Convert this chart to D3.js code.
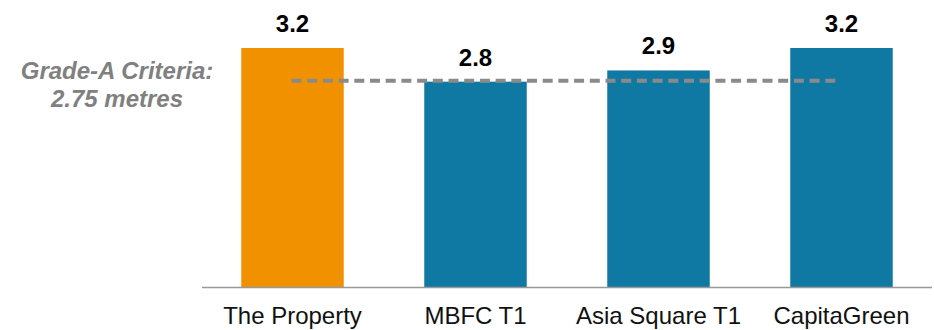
<!DOCTYPE html>
<html>
<head>
<meta charset="utf-8">
<script src="https://cdn.jsdelivr.net/npm/d3@7"></script>
<style>
  body { margin: 0; background: #fff; }
  text { font-family: "Liberation Sans", Arial, sans-serif; }
</style>
</head>
<body>
<div id="chart"></div>
<script>
// data
const categories = ["The Property", "MBFC T1", "Asia Square T1", "CapitaGreen"];
const heights = [3.2, 2.75, 2.9, 3.2];
const criteria = 2.75;
const criteriaLabel = ["Grade-A Criteria:", "2.75 metres"];

const width = 934, height = 330;
const baseline = 287.5;

const svg = d3.select("#chart")
  .append("svg")
    .attr("width", width)
    .attr("height", height);

const x = d3.scaleBand()
  .domain(categories)
  .range([201, 933])
  .paddingInner(0.44)
  .paddingOuter(0.22);

const y = d3.scaleLinear()
  .domain([0, 3.2])
  .range([baseline, 48]);

// bars
svg.selectAll("rect.bar")
  .data(heights)
  .join("rect")
    .attr("class", "bar")
    .attr("x", (d, i) => x(categories[i]))
    .attr("y", d => y(d))
    .attr("width", x.bandwidth())
    .attr("height", d => y(0) - y(d))
    .attr("fill", (d, i) => i === 0 ? "#F29100" : "#1079A3");

// value labels
svg.selectAll("text.val")
  .data(heights)
  .join("text")
    .attr("class", "val")
    .attr("x", (d, i) => x(categories[i]) + x.bandwidth() / 2)
    .attr("y", d => y(d) - 16)
    .attr("text-anchor", "middle")
    .style("font-size", "24px")
    .style("font-weight", "bold")
    .attr("fill", "#000")
    .text(d => d3.format(".1f")(d));

// x axis
const xAxis = svg.append("g")
  .attr("transform", `translate(0, ${baseline})`)
  .call(d3.axisBottom(x).tickSize(0).tickPadding(19));
xAxis.select(".domain")
  .attr("d", "M202,0H932")
  .attr("stroke", "#999")
  .attr("stroke-width", 1.5);
xAxis.selectAll(".tick text")
  .style("font-size", "24px")
  .attr("fill", "#111");

// criteria line
svg.append("line")
  .attr("x1", x(categories[0]) + x.bandwidth() / 2 - 1)
  .attr("x2", x(categories[3]) + x.bandwidth() / 2 - 2)
  .attr("y1", y(criteria) - 1)
  .attr("y2", y(criteria) - 1)
  .attr("stroke", "#8A8A8A")
  .attr("stroke-width", 4)
  .attr("stroke-dasharray", "10,5.7");

svg.append("text")
  .attr("x", 117)
  .attr("y", 79)
  .attr("text-anchor", "middle")
  .attr("fill", "#808080")
  .style("font-size", "24px")
  .style("font-weight", "bold")
  .style("font-style", "italic")
  .selectAll("tspan")
  .data(criteriaLabel)
  .join("tspan")
    .attr("x", 117)
    .attr("dy", (d, i) => i === 0 ? 0 : 28)
    .text(d => d);
</script>
</body>
</html>
